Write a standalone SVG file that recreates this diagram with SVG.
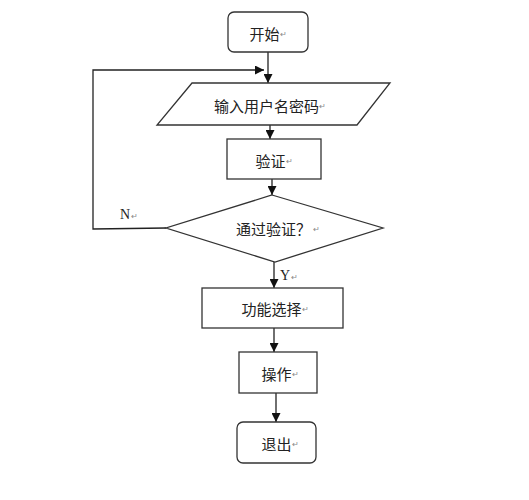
<svg xmlns="http://www.w3.org/2000/svg" width="529" height="500" viewBox="0 0 529 500">
<defs>
<marker id="arr" viewBox="0 0 10 10" refX="10" refY="5" markerWidth="10" markerHeight="9" markerUnits="userSpaceOnUse" orient="auto">
<path d="M0,0 L10,5 L0,10 Z" fill="#111"/>
</marker>
</defs>
<style>
.shape{fill:#fff;stroke:#333;stroke-width:1.3}
.lbl{font-family:"Noto Sans CJK SC","Liberation Sans",sans-serif;font-size:15px;fill:#222;text-anchor:middle;dominant-baseline:central}
.ret{font-size:8px;fill:#888}
.yn{font-family:"Liberation Serif","Noto Sans CJK SC",serif;font-size:14px;fill:#222}
.con{fill:none;stroke:#222;stroke-width:1.3}
</style>
<rect width="529" height="500" fill="#fff"/>
<g id="connectors">
<line class="con" x1="268" y1="52" x2="268" y2="83" marker-end="url(#arr)"/>
<line class="con" x1="270" y1="125" x2="270" y2="139" marker-end="url(#arr)"/>
<line class="con" x1="272" y1="179" x2="272" y2="195" marker-end="url(#arr)"/>
<line class="con" x1="274" y1="262" x2="274" y2="288" marker-end="url(#arr)"/>
<line class="con" x1="274" y1="328" x2="274" y2="352" marker-end="url(#arr)"/>
<line class="con" x1="276" y1="393" x2="276" y2="422" marker-end="url(#arr)"/>
<polyline class="con" points="166,228 93,229 93,70 264,70" marker-end="url(#arr)"/>
<text class="yn" x="120" y="219">N<tspan class="ret" dx="1">↵</tspan></text>
<text class="yn" x="280" y="280">Y<tspan class="ret" dx="1">↵</tspan></text>
</g>
<g id="start">
<rect class="shape" x="228" y="12" width="80" height="40" rx="6"/>
<text class="lbl" x="268" y="33">开始<tspan class="ret">↵</tspan></text>
</g>
<g id="input">
<polygon class="shape" points="192,83 390,83 357,125 157,125"/>
<text class="lbl" x="270" y="105">输入用户名密码<tspan class="ret">↵</tspan></text>
</g>
<g id="verify">
<rect class="shape" x="227" y="139" width="94" height="40"/>
<text class="lbl" x="274" y="160">验证<tspan class="ret">↵</tspan></text>
</g>
<g id="decision">
<polygon class="shape" points="272,195 383,228 275,262 166,228"/>
<text class="lbl" x="278" y="228">通过验证？<tspan class="ret" dx="2">↵</tspan></text>
</g>
<g id="select">
<rect class="shape" x="202" y="288" width="141" height="40"/>
<text class="lbl" x="275" y="308">功能选择<tspan class="ret">↵</tspan></text>
</g>
<g id="operate">
<rect class="shape" x="239" y="352" width="78" height="41"/>
<text class="lbl" x="280" y="373">操作<tspan class="ret">↵</tspan></text>
</g>
<g id="exit">
<rect class="shape" x="237" y="422" width="79" height="41" rx="6"/>
<text class="lbl" x="280" y="443">退出<tspan class="ret">↵</tspan></text>
</g>
</svg>
